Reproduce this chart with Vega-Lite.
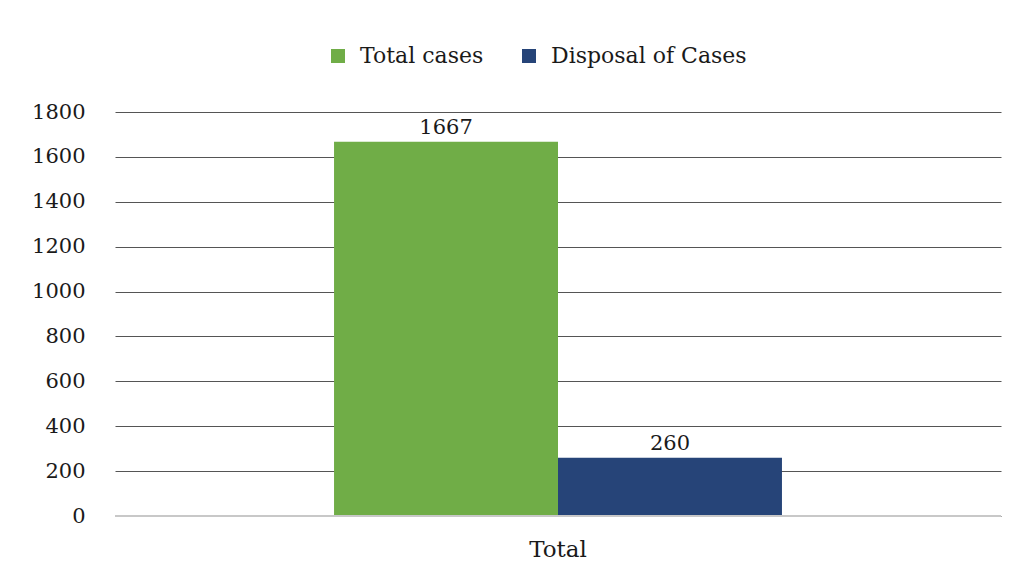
{
  "$schema": "https://vega.github.io/schema/vega-lite/v6.json",
  "width": 886,
  "height": 404,
  "autosize": "none",
  "padding": {"left": 115, "top": 112, "right": 27, "bottom": 65},
  "background": "white",
  "config": {
    "font": "DejaVu Serif",
    "view": {"stroke": null}
  },
  "data": {
    "values": [
      {"category": "Total", "series": "Total cases", "value": 1667},
      {"category": "Total", "series": "Disposal of Cases", "value": 260}
    ]
  },
  "encoding": {
    "x": {
      "field": "category",
      "type": "nominal",
      "title": null,
      "scale": {"paddingInner": 0, "paddingOuter": 0.489},
      "axis": {
        "labelAngle": 0,
        "labelFont": "DejaVu Serif",
        "labelFontSize": 23,
        "labelColor": "#1a1a1a",
        "labelPadding": 22,
        "ticks": false,
        "domain": false,
        "grid": false
      }
    },
    "xOffset": {
      "field": "series",
      "type": "nominal",
      "sort": ["Total cases", "Disposal of Cases"],
      "scale": {"paddingInner": 0, "paddingOuter": 0}
    },
    "y": {
      "field": "value",
      "type": "quantitative",
      "title": null,
      "scale": {"domain": [0, 1800], "nice": false},
      "axis": {
        "values": [0, 200, 400, 600, 800, 1000, 1200, 1400, 1600, 1800],
        "format": "d",
        "labelFont": "DejaVu Serif",
        "labelFontSize": 21,
        "labelColor": "#1a1a1a",
        "labelPadding": 30,
        "ticks": false,
        "domain": false,
        "grid": true,
        "gridColor": "#555555",
        "gridWidth": 1
      }
    }
  },
  "layer": [
    {
      "mark": {"type": "bar"},
      "encoding": {
        "color": {
          "field": "series",
          "type": "nominal",
          "sort": ["Total cases", "Disposal of Cases"],
          "scale": {"domain": ["Total cases", "Disposal of Cases"], "range": ["#70AD47", "#264478"]},
          "legend": {
            "title": null,
            "orient": "none",
            "direction": "horizontal",
            "legendX": 212,
            "legendY": -67,
            "symbolType": "square",
            "symbolSize": 196,
            "symbolStrokeWidth": 0,
            "labelFont": "DejaVu Serif",
            "labelFontSize": 22,
            "labelColor": "#1a1a1a",
            "labelOffset": 11,
            "columnPadding": 34,
            "labelLimit": 400
          }
        }
      }
    },
    {
      "mark": {"type": "rule", "color": "#c8c8c8", "strokeWidth": 2},
      "encoding": {
        "x": null,
        "xOffset": null,
        "y": {"datum": 0, "type": "quantitative"}
      }
    },
    {
      "mark": {"type": "text", "baseline": "alphabetic", "dy": -8, "font": "DejaVu Serif", "fontSize": 21, "color": "#1a1a1a"},
      "encoding": {
        "text": {"field": "value", "type": "quantitative"}
      }
    }
  ]
}
